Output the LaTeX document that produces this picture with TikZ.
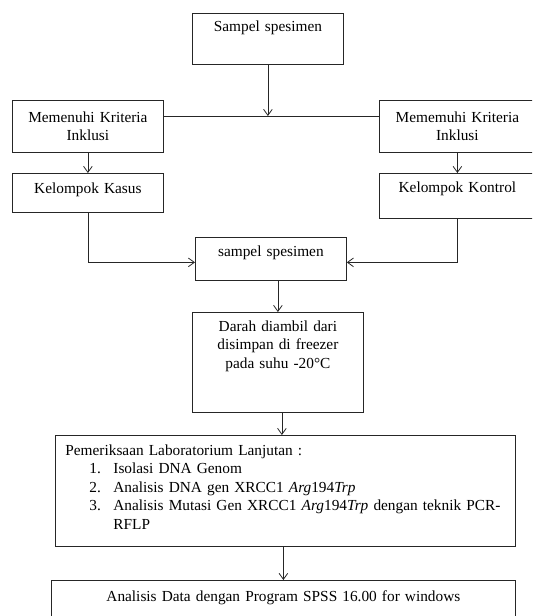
\documentclass[tikz,border=0pt]{standalone}
\usepackage{fontspec}
\setmainfont{Liberation Serif}
\usetikzlibrary{arrows.meta}

\begin{document}
\begin{tikzpicture}[x=0.75pt, y=-0.75pt,
    font=\fontsize{11.5}{13.8}\selectfont,
    box/.style={draw=black!85, line width=0.6pt, anchor=north west, inner sep=0pt, align=center},
    link/.style={draw=black!85, line width=0.6pt},
    arr/.style={link, -{Straight Barb[length=4.5pt,width=6.5pt]}}]
  \clip (0,0) rectangle (532,616);

  % boxes
  \node[box, text width=113.25pt, text height=13.5pt, text depth=24.75pt] (sampel) at (192,13) {Sampel spesimen};
  \node[box, text width=113.25pt, text height=16.5pt, text depth=22.5pt] (krit1) at (12,100) {Memenuhi Kriteria\\Inklusi};
  \node[box, text width=117pt, text height=16.5pt, text depth=22.5pt] (krit2) at (379,100) {Mememuhi Kriteria\\Inklusi};
  \node[box, text width=113.25pt, text height=15pt, text depth=14.25pt] (kasus) at (12,173) {Kelompok Kasus};
  \node[box, text width=117pt, text height=14.25pt, text depth=19.5pt] (kontrol) at (379,173) {Kelompok Kontrol};
  \node[box, text width=113.25pt, text height=14.25pt, text depth=18pt] (sampel2) at (195,237) {sampel spesimen};
  \node[box, text width=128.25pt, text height=14.25pt, text depth=60.75pt] (darah) at (192,312) {Darah diambil dari\\disimpan di freezer\\pada suhu -20°C};
  \node[box, align=left, inner xsep=7.5pt, text width=330pt, text height=15pt, text depth=68.25pt] (lab) at (55,435) {%
    Pemeriksaan Laboratorium Lanjutan :\\
    \hspace*{18pt}\makebox[18pt][l]{1.}Isolasi DNA Genom\\
    \hspace*{18pt}\makebox[18pt][l]{2.}Analisis DNA gen XRCC1 \textit{Arg}194\textit{Trp}\\
    \mbox{\hspace*{18pt}\makebox[18pt][l]{3.}Analisis Mutasi Gen XRCC1 \textit{Arg}194\textit{Trp} dengan teknik PCR-}\\
    \hspace*{36pt}RFLP};
  \node[box, text width=348pt, text height=15.75pt, text depth=40pt] (data) at (51,580) {Analisis Data dengan Program SPSS 16.00 for windows};

  % connectors
  \coordinate (split) at (265,116);
  \draw[arr] (sampel.south) -- (sampel.south |- split);
  \draw[link] (krit1.east |- split) -- (krit2.west |- split);
  \draw[arr] (krit1.south) -- (kasus.north);
  \draw[arr] (krit2.south) -- (kontrol.north);
  \draw[arr] (kasus.south) |- ([yshift=-2.6pt]sampel2.west);
  \draw[arr] (kontrol.south) |- ([yshift=-2.6pt]sampel2.east);
  \draw[arr] (darah.north |- sampel2.south) -- (darah.north);
  \draw[arr] ([xshift=3pt]darah.south) -- ([xshift=3pt]darah.south |- lab.north);
  \draw[arr] (data.north |- lab.south) -- (data.north);
\end{tikzpicture}
\end{document}
